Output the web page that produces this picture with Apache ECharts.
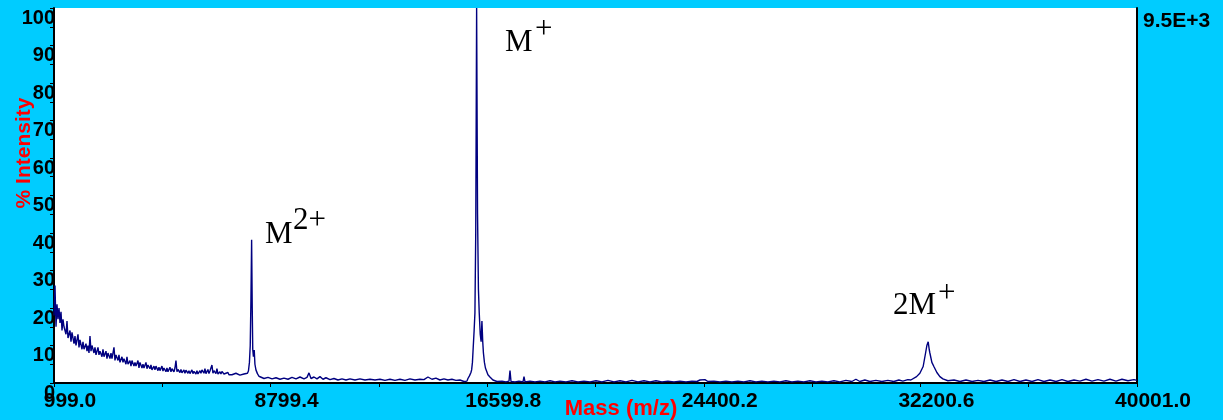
<!DOCTYPE html>
<html>
<head>
<meta charset="utf-8">
<script src="https://cdn.jsdelivr.net/npm/echarts@6/dist/echarts.min.js"></script>
<style>
html,body{margin:0;padding:0;background:#00CCFF;}
#chart{width:1223px;height:420px;}
</style>
</head>
<body>
<div id="chart"></div>
<script>
// ---- Data ----
const xTickLabels = ['999.0', '8799.4', '16599.8', '24400.2', '32200.6', '40001.0'];
const xMinorTicks = [4899.2, 12699.6, 20500.0, 28300.4, 36100.8];
const yTickLabels = ['0','10','20','30','40','50','60','70','80','90','100'];
const scaleNote = '9.5E+3';

const masses = [
  999,1035,1071,1107,1143,1179,1215,1251,1287,1323,1359,1431,1467,1503,1575,1611,1647,1719,1755,1791,
  1863,1899,1935,2007,2043,2079,2151,2187,2223,2259,2295,2331,2367,2439,2475,2511,2583,2619,2655,2727,
  2763,2799,2871,2907,2943,3015,3051,3087,3159,3195,3231,3303,3339,3375,3447,3483,3519,3591,3627,3663,
  3735,3771,3807,3879,3915,3951,4023,4059,4095,4167,4203,4239,4311,4347,4383,4455,4491,4527,4599,4635,
  4671,4743,4779,4815,4887,4923,4959,5031,5067,5103,5175,5211,5247,5319,5355,5391,5427,5463,5535,5571,
  5607,5679,5715,5751,5823,5859,5895,5967,6003,6039,6111,6147,6183,6255,6291,6327,6399,6435,6471,6543,
  6579,6615,6687,6723,6759,6831,6867,6903,6975,7011,7047,7119,7155,7191,7263,7299,7335,7407,7443,7479,
  7551,7587,7623,7695,7731,7767,7839,7875,7911,
  // M2+ peak
  7965,8001,8037,8066,8091,8116,8138,8156,8181,8210,8235,8271,8325,8379,8451,
  // baseline
  8562,8706,8850,8994,9138,9282,9426,9570,9714,9858,10002,10110,10182,10254,10362,10470,10578,10686,10794,10938,
  11082,11226,11370,11514,11658,11838,12018,12198,12378,12558,12738,12918,13098,13278,13458,13638,13818,13998,14178,14322,
  14466,14610,14754,14898,15042,15186,15330,15474,15618,15762,15870,
  // M+ peak
  15906,15960,16014,16039,16068,16097,16129,16158,16187,16219,16252,16284,16313,16349,16381,16410,16439,16464,16500,16536,
  16579,16626,16698,16806,16950,
  // baseline
  17133,17277,17385,17421,17457,17601,17745,17889,17925,17961,18141,18321,18501,18681,18861,19041,19221,19437,19653,19869,
  20085,20301,20517,20733,20949,21165,21381,21597,21813,22029,22245,22461,22677,22893,23109,23325,23541,23757,23973,24153,
  24261,24333,24441,24549,24765,24981,25197,25413,25629,25845,26061,26277,26493,26709,26925,27141,27357,27573,27789,28005,
  28221,28437,28653,28869,29085,29301,29517,29733,29877,30021,30201,30381,30597,30813,31029,31245,31425,31569,31749,31857,
  // 2M+ peak
  31929,32063,32181,32300,32387,32434,32481,32517,32542,32614,32686,32794,32902,33011,33191,
  // tail
  33411,33627,33843,34059,34275,34491,34707,34923,35139,35355,35571,35787,36003,36219,36435,36651,36867,37083,37299,37515,
  37731,37947,38163,38379,38595,38811,39027,39243,39459,39675,39891,40001
];

const intensities = [
  18,26,15,21,17,20,16,19,14,17,15,13,16.5,12,14,11,13.5,10.5,12.5,10,
  13,9.5,11.5,9,11,9,10.5,8.5,10,8,12.5,8.5,10,8,9.5,7.5,9.5,7.5,8.5,7,
  9,7,8.5,6.5,8,6.5,8,6.5,9.5,6,7.5,6,7.5,5.5,7,5.5,6.5,5,7,5,
  6,4.5,6,4.5,5.5,4.5,6,4,5.5,4,5,4,5.5,3.8,4.8,3.8,4.8,3.5,4.5,3.5,
  4.5,3.3,4.2,3.3,4.5,3.2,4,3,4,3,4.2,3,3.8,3,4,6,3,3.6,2.8,3.6,
  2.7,3.5,2.6,3.4,2.6,3.3,2.5,3.5,2.5,3.1,2.4,3.3,2.4,3.3,2.6,3.5,2.6,3.8,2.5,3.6,
  2.5,3.2,4.8,2.6,3.3,2.5,3.8,2.4,3,2.4,3.1,2.4,2.9,2.3,2.8,2.2,2.7,2.2,2.6,2.1,
  2.6,2.1,2.5,2.1,2.4,2.0,2.4,2.1,2.3,
  // M2+ peak
  2.6,3.2,5.5,10,22,38.2,20,9,7,8.8,5,3.5,2.5,1.8,1.4,
  // baseline
  1.2,1.5,1.1,1.4,1.0,1.3,1.0,1.5,1.1,1.6,1.1,1.5,2.7,1.2,1.6,1.1,1.7,1.0,1.4,0.9,
  1.2,0.8,1.1,0.8,1.1,0.8,1.1,0.8,1.0,0.8,1.0,0.7,1.0,0.7,1.0,0.7,1.1,0.8,1.0,0.9,
  1.6,1.0,1.3,0.8,1.1,0.8,1.0,0.7,0.8,0.4,0.5,
  // M+ peak
  1.2,1.9,2.8,3.5,5.5,9.6,14,18.7,40,100,45,25,18.7,13,11,16.5,11,8,5.5,4,
  3.5,2.2,1.6,0.8,0.4,
  // baseline
  0.5,0.3,0.5,3.3,0.4,0.3,0.5,0.3,1.7,0.3,0.5,0.3,0.5,0.3,0.6,0.3,0.5,0.3,0.6,0.3,
  0.5,0.3,0.6,0.3,0.7,0.3,0.6,0.3,0.7,0.3,0.6,0.3,0.6,0.3,0.5,0.3,0.5,0.3,0.5,0.4,
  0.8,1.3,0.9,0.4,0.5,0.3,0.5,0.3,0.5,0.3,0.6,0.3,0.5,0.3,0.5,0.3,0.6,0.3,0.5,0.3,
  0.6,0.3,0.5,0.3,0.6,0.3,0.7,0.4,1.0,0.4,0.8,0.4,0.7,0.4,0.7,0.4,0.8,0.5,0.9,0.8,
  // 2M+ peak
  1.2,1.7,2.6,4.4,8,10,11,9,8,5.5,4.4,2.8,1.7,1.1,0.6,
  // tail
  0.8,0.4,0.8,0.4,0.7,0.4,0.8,0.4,0.8,0.4,0.9,0.4,0.8,0.4,0.9,0.4,0.8,0.4,0.9,0.4,
  0.8,0.5,1.0,0.5,0.9,0.5,1.0,0.5,1.0,0.6,0.9,0.7
];

const peakLabels = [
  { main: 'M',  sup: '2+', mx: 265, my: 235, sx: 293, sy: 221 },
  { main: 'M',  sup: '+',  mx: 505, my: 42.5, sx: 535, sy: 30 },
  { main: '2M', sup: '+',  mx: 893, my: 306, sx: 938, sy: 294 }
];

// ---- Chart ----
const chart = echarts.init(document.getElementById('chart'));
const spectrum = masses.map((m, i) => [m, intensities[i]]);
const xTicks = xTickLabels.map(Number);
const xAllTicks = xTicks.concat(xMinorTicks).sort((a, b) => a - b);
const sans = '"Liberation Sans", Arial, sans-serif';
const serif = '"Liberation Serif", "Times New Roman", serif';

const graphics = [
  { type: 'text', x: 24, y: 153, rotation: Math.PI / 2,
    style: { text: '% Intensity', font: 'bold 21px ' + sans, fill: '#FF0000', textAlign: 'center', textVerticalAlign: 'middle' } },
  { type: 'text', x: 621, y: 409,
    style: { text: 'Mass (m/z)', font: 'bold 22px ' + sans, fill: '#FF0000', textAlign: 'center', textVerticalAlign: 'middle' } },
  { type: 'text', x: 1143, y: 21,
    style: { text: scaleNote, font: 'bold 21px ' + sans, fill: '#000', textAlign: 'left', textVerticalAlign: 'middle' } }
];
peakLabels.forEach(p => {
  graphics.push({ type: 'text', x: p.mx, y: p.my,
    style: { text: p.main, font: '31px ' + serif, fill: '#000', textAlign: 'left', textVerticalAlign: 'middle' } });
  graphics.push({ type: 'text', x: p.sx, y: p.sy,
    style: { text: p.sup, font: '31px ' + serif, fill: '#000', textAlign: 'left', textVerticalAlign: 'middle' } });
});

chart.setOption({
  backgroundColor: '#00CCFF',
  animation: false,
  grid: { left: 54, right: 86, top: 8, bottom: 37, show: true, backgroundColor: '#FFFFFF', borderWidth: 0 },
  xAxis: {
    type: 'value', min: 999, max: 40001,
    axisLine: { show: true, onZero: false, lineStyle: { color: '#000', width: 2 } },
    axisTick: { show: true, inside: false, length: 4, customValues: xAllTicks, lineStyle: { color: '#000', width: 1 } },
    axisLabel: {
      show: true, customValues: xTicks, margin: 8, showMinLabel: true, showMaxLabel: true,
      formatter: (v) => { const i = xTicks.indexOf(v); return i >= 0 ? xTickLabels[i] : v.toFixed(1); },
      fontFamily: sans, fontWeight: 'bold', fontSize: 21, color: '#000',
      align: 'center', padding: [0, 0, 0, 32]
    },
    splitLine: { show: false }
  },
  yAxis: [{
    type: 'value', min: 0, max: 100, interval: 10,
    axisLine: { show: true, onZero: false, lineStyle: { color: '#000', width: 2 } },
    axisTick: { show: true, inside: false, length: 4, lineStyle: { color: '#000', width: 1 } },
    minorTick: { show: true, splitNumber: 2, length: 4, lineStyle: { color: '#000', width: 1 } },
    axisLabel: {
      show: true, margin: -1, showMinLabel: true, showMaxLabel: true,
      formatter: (v) => yTickLabels[Math.round(v / 10)],
      fontFamily: sans, fontWeight: 'bold', fontSize: 20, color: '#000',
      align: 'right', verticalAlign: 'top'
    },
    splitLine: { show: false }
  }, {
    type: 'value', min: 0, max: 100, position: 'right',
    axisLine: { show: true, onZero: false, lineStyle: { color: '#000', width: 2 } },
    axisTick: { show: false }, axisLabel: { show: false }, splitLine: { show: false }
  }],
  series: [{
    type: 'line', data: spectrum, yAxisIndex: 0,
    showSymbol: false, symbol: 'none',
    lineStyle: { color: '#000080', width: 1.4 },
    clip: true
  }],
  graphic: graphics
});
</script>
</body>
</html>
